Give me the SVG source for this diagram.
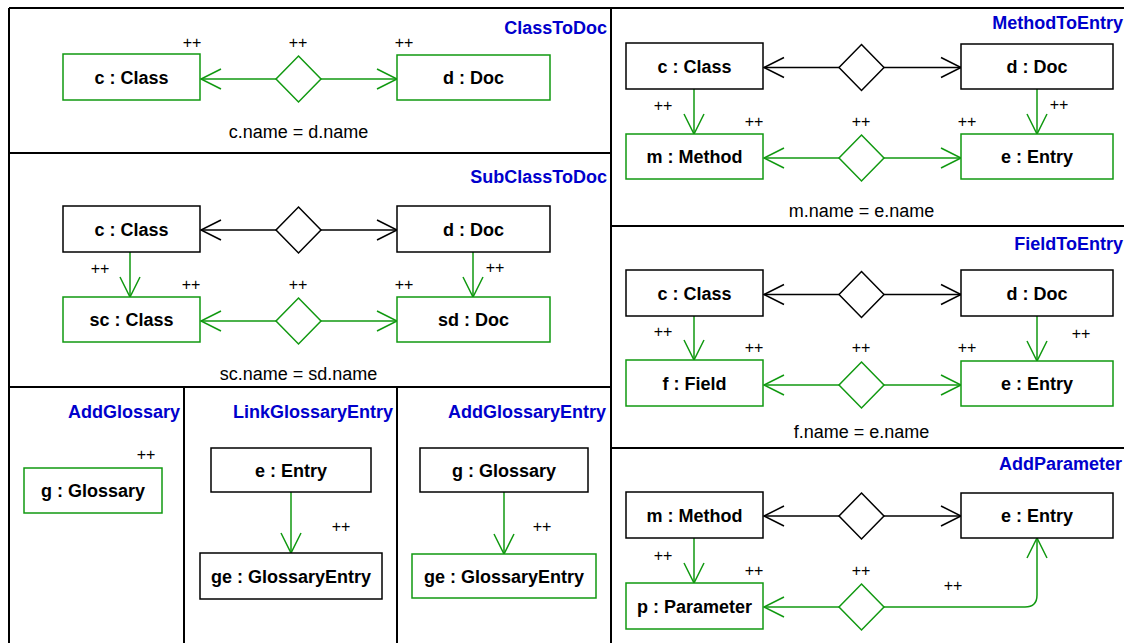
<svg xmlns="http://www.w3.org/2000/svg" width="1124" height="643" viewBox="0 0 1124 643">
  <style>
    .frame { stroke: #000; stroke-width: 2; fill: none; }
    .bx { fill: #fff; stroke: #000; stroke-width: 1.5; }
    .gx { fill: #fff; stroke: #119911; stroke-width: 1.5; }
    .lbl { font-family: "Liberation Sans", Arial, sans-serif; font-weight: bold; font-size: 18px; fill: #000; text-anchor: middle; }
    .ttl { font-family: "Liberation Sans", Arial, sans-serif; font-weight: bold; font-size: 18px; fill: #0000cc; text-anchor: end; }
    .pp { font-family: "Liberation Sans", Arial, sans-serif; font-size: 16px; fill: #000; text-anchor: middle; }
    .cst { font-family: "Liberation Sans", Arial, sans-serif; font-size: 18px; fill: #000; text-anchor: middle; }
    .kb { stroke: #000; stroke-width: 1.5; fill: none; marker-end: url(#openB); }
    .kg { stroke: #119911; stroke-width: 1.5; fill: none; marker-end: url(#openG); }
  </style>
  <defs>
    <marker id="openB" markerUnits="userSpaceOnUse" markerWidth="24" markerHeight="24" refX="20" refY="10" orient="auto" overflow="visible">
      <path d="M0,0 L20,10 L0,20" fill="none" stroke="#000" stroke-width="1.5"/>
    </marker>
    <marker id="openG" markerUnits="userSpaceOnUse" markerWidth="24" markerHeight="24" refX="20" refY="10" orient="auto" overflow="visible">
      <path d="M0,0 L20,10 L0,20" fill="none" stroke="#119911" stroke-width="1.5"/>
    </marker>
    <polygon id="dia" points="0,-23 22.5,0 0,23 -22.5,0"/>
  </defs>

  <rect width="1124" height="643" fill="#fff"/>

  <!-- rule frames -->
  <g id="frames" class="frame">
    <line x1="9" y1="8" x2="1124" y2="8"/>
    <line x1="9" y1="8" x2="9" y2="643"/>
    <line x1="611" y1="8" x2="611" y2="643"/>
    <line x1="9" y1="153" x2="611" y2="153"/>
    <line x1="9" y1="387" x2="611" y2="387"/>
    <line x1="184" y1="387" x2="184" y2="643"/>
    <line x1="397" y1="387" x2="397" y2="643"/>
    <line x1="611" y1="226" x2="1124" y2="226"/>
    <line x1="611" y1="448" x2="1124" y2="448"/>
  </g>

  <!-- rule titles -->
  <g id="titles">
    <text class="ttl" x="607" y="34">ClassToDoc</text>
    <text class="ttl" x="607" y="182.5">SubClassToDoc</text>
    <text class="ttl" x="180" y="418">AddGlossary</text>
    <text class="ttl" x="393" y="418">LinkGlossaryEntry</text>
    <text class="ttl" x="606" y="418">AddGlossaryEntry</text>
    <text class="ttl" x="1123" y="28.5">MethodToEntry</text>
    <text class="ttl" x="1123" y="250">FieldToEntry</text>
    <text class="ttl" x="1122" y="470">AddParameter</text>
  </g>

  <!-- connectors -->
  <g id="connectors">
    <!-- ClassToDoc -->
    <line class="kg" x1="276" y1="79" x2="201" y2="79"/>
    <line class="kg" x1="321" y1="79" x2="397" y2="79"/>
    <!-- SubClassToDoc -->
    <line class="kb" x1="276" y1="230" x2="201" y2="230"/>
    <line class="kb" x1="321" y1="230" x2="397" y2="230"/>
    <line class="kg" x1="276" y1="321" x2="201" y2="321"/>
    <line class="kg" x1="321" y1="321" x2="397" y2="321"/>
    <line class="kg" x1="130" y1="252" x2="130" y2="297"/>
    <line class="kg" x1="473" y1="252" x2="473" y2="297"/>
    <!-- LinkGlossaryEntry / AddGlossaryEntry -->
    <line class="kg" x1="291" y1="492" x2="291" y2="553"/>
    <line class="kg" x1="504" y1="492" x2="504" y2="554"/>
    <!-- MethodToEntry -->
    <line class="kb" x1="839" y1="67.5" x2="764" y2="67.5"/>
    <line class="kb" x1="884" y1="67.5" x2="961" y2="67.5"/>
    <line class="kg" x1="839" y1="158" x2="764" y2="158"/>
    <line class="kg" x1="884" y1="158" x2="961" y2="158"/>
    <line class="kg" x1="694" y1="89" x2="694" y2="134"/>
    <line class="kg" x1="1037" y1="89" x2="1037" y2="134"/>
    <!-- FieldToEntry -->
    <line class="kb" x1="839" y1="294.5" x2="764" y2="294.5"/>
    <line class="kb" x1="884" y1="294.5" x2="961" y2="294.5"/>
    <line class="kg" x1="839" y1="385" x2="764" y2="385"/>
    <line class="kg" x1="884" y1="385" x2="961" y2="385"/>
    <line class="kg" x1="694" y1="316" x2="694" y2="360"/>
    <line class="kg" x1="1037" y1="316" x2="1037" y2="361"/>
    <!-- AddParameter -->
    <line class="kb" x1="839" y1="516" x2="764" y2="516"/>
    <line class="kb" x1="884" y1="516" x2="961" y2="516"/>
    <line class="kg" x1="839" y1="607" x2="764" y2="607"/>
    <path class="kg" d="M884,607 H1025 Q1037,607 1037,595 V538"/>
    <line class="kg" x1="694" y1="538" x2="694" y2="583"/>
  </g>

  <!-- link diamonds -->
  <g id="links">
    <use href="#dia" x="298.5" y="79" fill="#fff" stroke="#119911" stroke-width="1.5"/>
    <use href="#dia" x="298.5" y="230" fill="#fff" stroke="#000" stroke-width="1.5"/>
    <use href="#dia" x="298.5" y="321" fill="#fff" stroke="#119911" stroke-width="1.5"/>
    <use href="#dia" x="861.5" y="67.5" fill="#fff" stroke="#000" stroke-width="1.5"/>
    <use href="#dia" x="861.5" y="158" fill="#fff" stroke="#119911" stroke-width="1.5"/>
    <use href="#dia" x="861.5" y="294.5" fill="#fff" stroke="#000" stroke-width="1.5"/>
    <use href="#dia" x="861.5" y="385" fill="#fff" stroke="#119911" stroke-width="1.5"/>
    <use href="#dia" x="861.5" y="516" fill="#fff" stroke="#000" stroke-width="1.5"/>
    <use href="#dia" x="861.5" y="607" fill="#fff" stroke="#119911" stroke-width="1.5"/>
  </g>

  <!-- ClassToDoc nodes -->
  <g id="ctd-c"><rect class="gx" x="63" y="54" width="137" height="46"/><text class="lbl" x="131.5" y="83.5">c : Class</text></g>
  <g id="ctd-d"><rect class="gx" x="397" y="55" width="153" height="45"/><text class="lbl" x="473.5" y="84">d : Doc</text></g>

  <!-- SubClassToDoc nodes -->
  <g id="sctd-c"><rect class="bx" x="63" y="206" width="137" height="46"/><text class="lbl" x="131.5" y="235.5">c : Class</text></g>
  <g id="sctd-d"><rect class="bx" x="397" y="206" width="153" height="46"/><text class="lbl" x="473.5" y="235.5">d : Doc</text></g>
  <g id="sctd-sc"><rect class="gx" x="63" y="297" width="137" height="45"/><text class="lbl" x="131.5" y="326">sc : Class</text></g>
  <g id="sctd-sd"><rect class="gx" x="397" y="297" width="153" height="45"/><text class="lbl" x="473.5" y="326">sd : Doc</text></g>

  <!-- AddGlossary node -->
  <g id="ag-g"><rect class="gx" x="24" y="468" width="138" height="45"/><text class="lbl" x="93" y="497">g : Glossary</text></g>

  <!-- LinkGlossaryEntry nodes -->
  <g id="lge-e"><rect class="bx" x="211" y="448" width="160" height="44"/><text class="lbl" x="291" y="476.5">e : Entry</text></g>
  <g id="lge-ge"><rect class="bx" x="200" y="553" width="182" height="46"/><text class="lbl" x="291" y="582.5">ge : GlossaryEntry</text></g>

  <!-- AddGlossaryEntry nodes -->
  <g id="age-g"><rect class="bx" x="420" y="448" width="168" height="44"/><text class="lbl" x="504" y="476.5">g : Glossary</text></g>
  <g id="age-ge"><rect class="gx" x="412" y="554" width="184" height="44"/><text class="lbl" x="504" y="582.5">ge : GlossaryEntry</text></g>

  <!-- MethodToEntry nodes -->
  <g id="mte-c"><rect class="bx" x="626" y="43" width="137" height="46"/><text class="lbl" x="694.5" y="72.5">c : Class</text></g>
  <g id="mte-d"><rect class="bx" x="961" y="44" width="152" height="45"/><text class="lbl" x="1037" y="73">d : Doc</text></g>
  <g id="mte-m"><rect class="gx" x="626" y="134" width="137" height="45"/><text class="lbl" x="694.5" y="163">m : Method</text></g>
  <g id="mte-e"><rect class="gx" x="961" y="134" width="152" height="45"/><text class="lbl" x="1037" y="163">e : Entry</text></g>

  <!-- FieldToEntry nodes -->
  <g id="fte-c"><rect class="bx" x="626" y="270" width="137" height="46"/><text class="lbl" x="694.5" y="299.5">c : Class</text></g>
  <g id="fte-d"><rect class="bx" x="961" y="270" width="152" height="46"/><text class="lbl" x="1037" y="299.5">d : Doc</text></g>
  <g id="fte-f"><rect class="gx" x="626" y="360" width="137" height="46"/><text class="lbl" x="694.5" y="389.5">f : Field</text></g>
  <g id="fte-e"><rect class="gx" x="961" y="361" width="152" height="45"/><text class="lbl" x="1037" y="390">e : Entry</text></g>

  <!-- AddParameter nodes -->
  <g id="ap-m"><rect class="bx" x="626" y="492" width="137" height="46"/><text class="lbl" x="694.5" y="521.5">m : Method</text></g>
  <g id="ap-e"><rect class="bx" x="961" y="493" width="152" height="45"/><text class="lbl" x="1037" y="522">e : Entry</text></g>
  <g id="ap-p"><rect class="gx" x="626" y="583" width="137" height="46"/><text class="lbl" x="694.5" y="612.5">p : Parameter</text></g>

  <!-- creation marks -->
  <g id="marks">
    <text class="pp" x="192" y="47.5">++</text>
    <text class="pp" x="298" y="47.5">++</text>
    <text class="pp" x="404" y="47.5">++</text>
    <text class="pp" x="100" y="273.5">++</text>
    <text class="pp" x="191" y="289.5">++</text>
    <text class="pp" x="298" y="289.5">++</text>
    <text class="pp" x="404" y="289.5">++</text>
    <text class="pp" x="495" y="272.5">++</text>
    <text class="pp" x="146" y="459.5">++</text>
    <text class="pp" x="341" y="531.5">++</text>
    <text class="pp" x="542" y="531.5">++</text>
    <text class="pp" x="663" y="110.5">++</text>
    <text class="pp" x="754" y="126.5">++</text>
    <text class="pp" x="861" y="126.5">++</text>
    <text class="pp" x="967" y="126.5">++</text>
    <text class="pp" x="1059" y="109.5">++</text>
    <text class="pp" x="663" y="336.5">++</text>
    <text class="pp" x="754" y="352.5">++</text>
    <text class="pp" x="861" y="352.5">++</text>
    <text class="pp" x="967" y="352.5">++</text>
    <text class="pp" x="1081" y="338.5">++</text>
    <text class="pp" x="663" y="560.5">++</text>
    <text class="pp" x="754" y="575.5">++</text>
    <text class="pp" x="861" y="575.5">++</text>
    <text class="pp" x="953" y="590.5">++</text>
  </g>

  <!-- attribute constraints -->
  <g id="constraints">
    <text class="cst" x="298.5" y="137.5">c.name = d.name</text>
    <text class="cst" x="298.5" y="380">sc.name = sd.name</text>
    <text class="cst" x="861.5" y="216.5">m.name = e.name</text>
    <text class="cst" x="861.5" y="438">f.name = e.name</text>
  </g>
</svg>
